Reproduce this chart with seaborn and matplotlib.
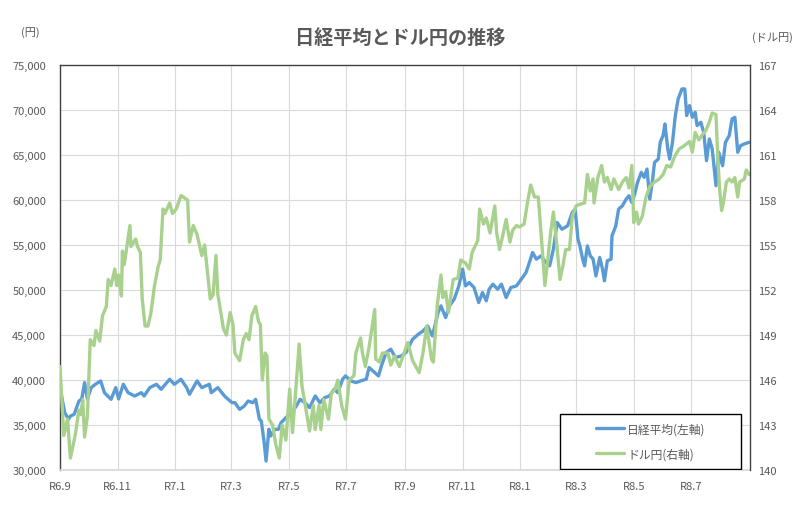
import pandas as pd
import matplotlib
matplotlib.use("Agg")
import matplotlib.pyplot as plt
import matplotlib.ticker as mticker
from matplotlib.patches import Rectangle
import seaborn as sns

# Nikkei 225 (left axis)
nk_dates = [
    "2024-09-02", "2024-09-06", "2024-09-10", "2024-09-12", "2024-09-16", "2024-09-21", "2024-09-24",
    "2024-09-27", "2024-09-30", "2024-10-04", "2024-10-08", "2024-10-14", "2024-10-18", "2024-10-25",
    "2024-10-30", "2024-11-02", "2024-11-07", "2024-11-12", "2024-11-19", "2024-11-26", "2024-11-29",
    "2024-12-05", "2024-12-12", "2024-12-17", "2024-12-26", "2024-12-31", "2025-01-07", "2025-01-13",
    "2025-01-16", "2025-01-24", "2025-01-29", "2025-02-06", "2025-02-08", "2025-02-15", "2025-02-22",
    "2025-03-02", "2025-03-05", "2025-03-10", "2025-03-15", "2025-03-19", "2025-03-24", "2025-03-27",
    "2025-03-31", "2025-04-02", "2025-04-05", "2025-04-07", "2025-04-10", "2025-04-12", "2025-04-16",
    "2025-04-20", "2025-04-23", "2025-04-28", "2025-05-04", "2025-05-09", "2025-05-13", "2025-05-18",
    "2025-05-23", "2025-05-29", "2025-06-03", "2025-06-08", "2025-06-13", "2025-06-18", "2025-06-22",
    "2025-06-27", "2025-06-30", "2025-07-06", "2025-07-11", "2025-07-16", "2025-07-22", "2025-07-25",
    "2025-07-31", "2025-08-04", "2025-08-07", "2025-08-12", "2025-08-17", "2025-08-22", "2025-08-28",
    "2025-09-02", "2025-09-09", "2025-09-15", "2025-09-20", "2025-09-25", "2025-09-30", "2025-10-06",
    "2025-10-09", "2025-10-14", "2025-10-18", "2025-10-23", "2025-10-28", "2025-11-01", "2025-11-04",
    "2025-11-08", "2025-11-13", "2025-11-18", "2025-11-22", "2025-11-26", "2025-11-29", "2025-12-03",
    "2025-12-08", "2025-12-12", "2025-12-17", "2025-12-22", "2025-12-28", "2026-01-02", "2026-01-07",
    "2026-01-10", "2026-01-14", "2026-01-18", "2026-01-23", "2026-01-28", "2026-02-01", "2026-02-05",
    "2026-02-09", "2026-02-14", "2026-02-20", "2026-02-25", "2026-02-28", "2026-03-03", "2026-03-05",
    "2026-03-08", "2026-03-10", "2026-03-13", "2026-03-16", "2026-03-19", "2026-03-22", "2026-03-26",
    "2026-03-29", "2026-03-31", "2026-04-03", "2026-04-07", "2026-04-08", "2026-04-12", "2026-04-15",
    "2026-04-19", "2026-04-23", "2026-04-26", "2026-04-29", "2026-05-02", "2026-05-05", "2026-05-09",
    "2026-05-12", "2026-05-15", "2026-05-18", "2026-05-21", "2026-05-23", "2026-05-27", "2026-05-29",
    "2026-06-01", "2026-06-03", "2026-06-06", "2026-06-08", "2026-06-11", "2026-06-14", "2026-06-17",
    "2026-06-21", "2026-06-24", "2026-06-26", "2026-06-29", "2026-07-02", "2026-07-05", "2026-07-07",
    "2026-07-11", "2026-07-14", "2026-07-17", "2026-07-20", "2026-07-23", "2026-07-27", "2026-07-30",
    "2026-08-03", "2026-08-06", "2026-08-10", "2026-08-13", "2026-08-16", "2026-08-19", "2026-08-22",
    "2026-08-26", "2026-08-31",
]
nikkei = [
    38600, 36380, 35640, 36000, 36200, 37670, 37900,
    39720, 37900, 39160, 39500, 39900, 38600, 37860,
    39160, 37900, 39530, 38600, 38230, 38600, 38230,
    39160, 39530, 38970, 40090, 39530, 40090, 39160,
    38420, 39900, 39160, 39530, 38600, 39160, 38230,
    37490, 37490, 36750, 37120, 37670, 37490, 37860,
    35640, 35450, 33050, 31000, 34530, 33790, 34530,
    34530, 35270, 35830, 36380, 37120, 37860, 37490,
    36940, 38230, 37490, 38040, 38230, 38970, 38600,
    40090, 40460, 39900, 39720, 39900, 40090, 41390,
    40830, 40460, 41570, 43050, 43420, 42490, 42680,
    43050, 44530, 45080, 45450, 46000, 44900, 47500,
    48240, 46950, 48240, 48980, 50460, 52320, 50460,
    50830, 50280, 48610, 49720, 48800, 50090, 50650,
    50090, 50650, 49170, 50280, 50460, 51200, 51940,
    52870, 54170, 53430, 53800, 53060, 52690, 54540,
    57500, 56760, 57130, 58620, 58990, 55650, 54910,
    53430, 52690, 54910, 53800, 53430, 51570, 53620,
    52320, 51020, 53250, 53430, 56020, 57130, 58990,
    59360, 60100, 60470, 59730, 60660, 61960, 63070,
    62520, 63440, 60100, 62330, 64180, 64550, 66410,
    67150, 68450, 65670, 64550, 66410, 69380, 71230,
    72340, 72340, 69380, 70490, 69190, 69750, 68270,
    68640, 67520, 64370, 66780, 65670, 61590, 65300,
    63810, 66410, 67150, 69000, 69190, 65300, 66040,
    66230, 66410,
]

# USD/JPY (right axis)
fx_dates = [
    "2024-09-01", "2024-09-05", "2024-09-09", "2024-09-12", "2024-09-17", "2024-09-21", "2024-09-23",
    "2024-09-25", "2024-09-27", "2024-09-30", "2024-10-03", "2024-10-07", "2024-10-09", "2024-10-13",
    "2024-10-16", "2024-10-20", "2024-10-22", "2024-10-25", "2024-10-29", "2024-10-31", "2024-11-02",
    "2024-11-05", "2024-11-06", "2024-11-08", "2024-11-14", "2024-11-15", "2024-11-20", "2024-11-22",
    "2024-11-25", "2024-11-27", "2024-11-30", "2024-12-03", "2024-12-06", "2024-12-10", "2024-12-14",
    "2024-12-16", "2024-12-19", "2024-12-21", "2024-12-26", "2024-12-29", "2025-01-02", "2025-01-07",
    "2025-01-14", "2025-01-16", "2025-01-20", "2025-01-24", "2025-01-29", "2025-02-01", "2025-02-07",
    "2025-02-10", "2025-02-13", "2025-02-15", "2025-02-21", "2025-02-24", "2025-02-28", "2025-03-03",
    "2025-03-05", "2025-03-10", "2025-03-14", "2025-03-17", "2025-03-20", "2025-03-23", "2025-03-27",
    "2025-03-30", "2025-04-01", "2025-04-03", "2025-04-06", "2025-04-08", "2025-04-10", "2025-04-14",
    "2025-04-17", "2025-04-21", "2025-04-24", "2025-04-28", "2025-05-02", "2025-05-05", "2025-05-09",
    "2025-05-12", "2025-05-15", "2025-05-18", "2025-05-23", "2025-05-27", "2025-05-29", "2025-06-02",
    "2025-06-04", "2025-06-07", "2025-06-12", "2025-06-15", "2025-06-19", "2025-06-22", "2025-06-26",
    "2025-06-30", "2025-07-04", "2025-07-09", "2025-07-11", "2025-07-16", "2025-07-18", "2025-07-21",
    "2025-07-25", "2025-07-31", "2025-08-01", "2025-08-05", "2025-08-08", "2025-08-14", "2025-08-17",
    "2025-08-21", "2025-08-26", "2025-08-31", "2025-09-04", "2025-09-09", "2025-09-16", "2025-09-20",
    "2025-09-24", "2025-09-29", "2025-10-01", "2025-10-05", "2025-10-09", "2025-10-11", "2025-10-14",
    "2025-10-17", "2025-10-22", "2025-10-27", "2025-10-30", "2025-11-04", "2025-11-08", "2025-11-11",
    "2025-11-17", "2025-11-19", "2025-11-23", "2025-11-26", "2025-11-30", "2025-12-05", "2025-12-07",
    "2025-12-10", "2025-12-14", "2025-12-17", "2025-12-21", "2025-12-24", "2025-12-28", "2025-12-31",
    "2026-01-05", "2026-01-09", "2026-01-12", "2026-01-16", "2026-01-20", "2026-01-24", "2026-01-27",
    "2026-01-30", "2026-02-02", "2026-02-05", "2026-02-08", "2026-02-12", "2026-02-15", "2026-02-18",
    "2026-02-22", "2026-02-25", "2026-03-01", "2026-03-04", "2026-03-10", "2026-03-13", "2026-03-16",
    "2026-03-19", "2026-03-20", "2026-03-24", "2026-03-28", "2026-03-31", "2026-04-03", "2026-04-07",
    "2026-04-10", "2026-04-15", "2026-04-19", "2026-04-23", "2026-04-26", "2026-04-29", "2026-05-01",
    "2026-05-04", "2026-05-06", "2026-05-10", "2026-05-14", "2026-05-18", "2026-05-23", "2026-05-28",
    "2026-06-01", "2026-06-05", "2026-06-09", "2026-06-14", "2026-06-18", "2026-06-23", "2026-06-29",
    "2026-07-02", "2026-07-05", "2026-07-09", "2026-07-13", "2026-07-16", "2026-07-20", "2026-07-23",
    "2026-07-27", "2026-07-29", "2026-07-31", "2026-08-02", "2026-08-04", "2026-08-07", "2026-08-10",
    "2026-08-13", "2026-08-16", "2026-08-19", "2026-08-21", "2026-08-26", "2026-08-28", "2026-08-31",
]
usdjpy = [
    146.9, 142.3, 143.4, 140.8, 142.3, 144.0, 143.7,
    144.7, 142.2, 143.6, 148.7, 148.3, 149.3, 148.6,
    150.3, 150.9, 152.7, 152.3, 153.4, 152.3, 153.0,
    151.6, 154.6, 153.7, 156.3, 154.9, 155.4, 154.9,
    154.5, 151.4, 149.6, 149.6, 150.4, 152.3, 153.6,
    154.0, 157.4, 157.1, 157.8, 157.1, 157.4, 158.3,
    158.0, 155.2, 156.3, 155.7, 154.3, 155.0, 151.4,
    151.7, 154.3, 151.7, 149.4, 149.0, 150.5, 149.7,
    147.8, 147.3, 148.7, 149.1, 148.7, 150.3, 150.9,
    149.9, 149.7, 146.0, 147.8, 147.6, 143.4, 143.0,
    141.8, 140.8, 143.0, 142.0, 145.4, 142.5, 145.8,
    148.4, 145.6, 144.5, 142.6, 144.3, 142.7, 144.3,
    142.7, 144.7, 143.4, 145.1, 145.4, 146.0, 144.3,
    143.4, 146.0, 146.3, 147.8, 148.8, 147.8, 146.9,
    148.2, 150.7, 147.4, 147.2, 147.8, 147.8, 147.0,
    147.6, 146.9, 147.8, 148.5, 147.3, 146.5, 147.8,
    149.6, 147.4, 147.2, 150.9, 153.0, 151.5, 151.9,
    150.5, 152.7, 152.8, 154.0, 153.8, 153.4, 154.5,
    155.3, 157.4, 156.4, 156.8, 155.8, 157.6, 155.8,
    154.7, 155.8, 156.7, 155.2, 156.0, 156.3, 156.2,
    156.4, 158.0, 159.0, 158.2, 158.2, 154.9, 152.3,
    154.0, 155.8, 157.2, 155.4, 152.7, 153.6, 154.7,
    154.7, 156.9, 157.6, 157.7, 157.8, 159.7, 158.6,
    159.4, 157.8, 159.5, 160.3, 159.2, 159.5, 158.7,
    159.4, 158.7, 159.2, 159.5, 158.8, 160.3, 156.5,
    157.2, 156.4, 156.9, 158.2, 158.9, 159.2, 159.4,
    159.7, 160.3, 160.2, 161.0, 161.4, 161.6, 161.9,
    161.2, 162.5, 162.0, 162.4, 162.6, 163.2, 163.8,
    163.7, 160.7, 158.6, 157.3, 157.9, 159.2, 159.4,
    159.2, 159.5, 158.2, 159.2, 159.4, 160.0, 159.7,
]

tick_dates = [
    "2024-09-01", "2024-11-01", "2025-01-01", "2025-03-01", "2025-05-01", "2025-07-01",
    "2025-09-01", "2025-11-01", "2026-01-01", "2026-03-01", "2026-05-01", "2026-07-01",
]
tick_labels = ["R6.9", "R6.11", "R7.1", "R7.3", "R7.5", "R7.7",
               "R7.9", "R7.11", "R8.1", "R8.3", "R8.5", "R8.7"]

sns.set_theme(style="white")
plt.rcParams["font.family"] = ["Noto Sans CJK JP", "DejaVu Sans"]

grey = "#595959"
nk = pd.DataFrame({"date": pd.to_datetime(nk_dates), "value": nikkei})
fx = pd.DataFrame({"date": pd.to_datetime(fx_dates), "value": usdjpy})

fig, ax = plt.subplots(figsize=(8, 5.06), dpi=100)
fig.subplots_adjust(left=0.075, right=0.9375, bottom=0.069, top=0.8696)
ax2 = ax.twinx()

sns.lineplot(data=nk, x="date", y="value", ax=ax, color="#5B9BD5", linewidth=2.4,
             label="日経平均(左軸)", legend=False)
sns.lineplot(data=fx, x="date", y="value", ax=ax2, color="#A9D18E", linewidth=2.4,
             label="ドル円(右軸)", legend=False)

ax.set_xlim(pd.Timestamp("2024-09-01"), pd.Timestamp("2026-09-01"))
ax.set_ylim(30000, 75000)
ax2.set_ylim(140, 167)
ax.set_yticks(range(30000, 75001, 5000))
ax2.set_yticks(range(140, 168, 3))
ax.yaxis.set_major_formatter(mticker.StrMethodFormatter("{x:,.0f}"))
ax.set_xticks(pd.to_datetime(tick_dates))
ax.set_xticklabels(tick_labels)

ax.grid(True, color="#D9D9D9", linewidth=0.8)
ax.set_axisbelow(True)
ax.set_xlabel("")
ax.set_ylabel("")
ax2.set_ylabel("")

for a in (ax, ax2):
    a.tick_params(length=0, labelsize=8, colors=grey)
    for s in a.spines.values():
        s.set_visible(False)
ax.spines["left"].set_visible(True)
ax.spines["left"].set_color("#404040")
ax.spines["top"].set_visible(True)
ax.spines["top"].set_color("#404040")
ax.spines["bottom"].set_visible(True)
ax.spines["bottom"].set_color("#D9D9D9")
ax2.spines["right"].set_visible(True)
ax2.spines["right"].set_color("#404040")
for s in (ax.spines["left"], ax.spines["top"], ax2.spines["right"]):
    s.set_linewidth(1.0)
ax.tick_params(axis="x", pad=8)
ax.tick_params(axis="y", pad=10)
ax2.tick_params(axis="y", pad=6)

# legend box drawn as a framed rectangle with the entries centred inside
ax2.add_patch(Rectangle((0.7246, 0.0025), 0.2624, 0.1355, transform=ax2.transAxes,
                        facecolor="white", edgecolor="black", linewidth=1.0, zorder=5))
h1, l1 = ax.get_legend_handles_labels()
h2, l2 = ax2.get_legend_handles_labels()
leg = ax2.legend(h1 + h2, l1 + l2, loc="center", bbox_to_anchor=(0.8565, 0.071),
                 fontsize=8.5, frameon=False, borderpad=0.2, labelspacing=1.05,
                 handlelength=2.3, handletextpad=0.3, labelcolor=grey)
leg.set_zorder(6)

fig.text(0.5, 0.925, "日経平均とドル円の推移", ha="center", va="center",
         fontsize=13.8, fontweight="bold", color=grey)
fig.text(0.038, 0.935, "(円)", ha="center", va="center", fontsize=8, color=grey)
fig.text(0.965, 0.925, "(ドル円)", ha="center", va="center", fontsize=8, color=grey)

fig.savefig("out.png", dpi=100)
